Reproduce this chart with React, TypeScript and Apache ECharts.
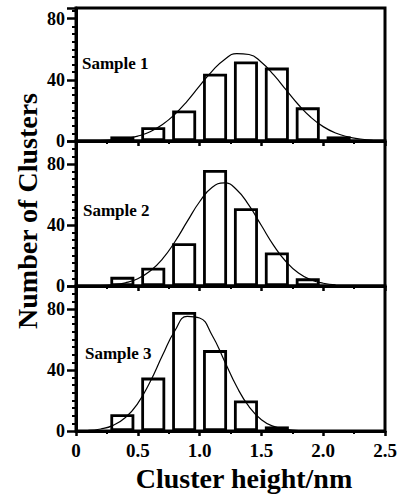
import React, { useEffect, useRef } from "react";
import * as echarts from "echarts";

const binCenters = [0.375, 0.625, 0.875, 1.125, 1.375, 1.625, 1.875, 2.125];
const sample1Counts = [3, 9, 20, 44, 52, 48, 22, 3];
const sample2Counts = [6, 12, 28, 76, 51, 22, 5, null];
const sample3Counts = [11, 35, 78, 53, 20, 3, null, null];

const fitX1 = [0.2, 0.3, 0.4, 0.5, 0.6, 0.7, 0.8, 0.9, 1.0, 1.1, 1.2, 1.3, 1.4, 1.5, 1.6, 1.7, 1.8, 1.9, 2.0, 2.1, 2.2, 2.3, 2.4];
const fitY1 = [0.3, 0.7, 1.5, 3.2, 6.1, 10.8, 17.5, 26.1, 36.0, 45.6, 53.2, 57.2, 56.6, 51.5, 43.2, 33.4, 23.7, 15.5, 9.4, 5.2, 2.7, 1.3, 0.5];
const fitX2 = [0.2, 0.3, 0.4, 0.5, 0.6, 0.7, 0.8, 0.9, 1.0, 1.1, 1.2, 1.3, 1.4, 1.5, 1.6, 1.7, 1.8, 1.9, 2.0, 2.1];
const fitY2 = [0.3, 0.8, 2.1, 4.8, 9.8, 17.8, 29.0, 42.3, 55.2, 64.5, 67.5, 63.1, 52.8, 39.6, 26.5, 15.9, 8.5, 4.1, 1.8, 0.7];
const fitX3 = [0.1, 0.2, 0.3, 0.4, 0.5, 0.6, 0.7, 0.8, 0.9, 1.0, 1.1, 1.2, 1.3, 1.4, 1.5, 1.6, 1.7, 1.8];
const fitY3 = [0.4, 1.3, 3.7, 8.8, 18.1, 32.3, 49.6, 65.7, 75.1, 74.0, 62.9, 46.1, 29.1, 15.9, 7.4, 3.0, 1.05, 0.3];

const sampleNames = ["Sample 1", "Sample 2", "Sample 3"];
const yTickLabels = ["0", "40", "80"];
const xTickLabels = ["0", "0.5", "1.0", "1.5", "2.0", "2.5"];
const yMaxes = [87, 95, 95];
const xTitle = "Cluster height/nm";
const yTitle = "Number of Clusters";

const FONT = '"Liberation Serif", "Times New Roman", serif';

export default function App() {
  const ref = useRef<HTMLDivElement>(null);
  useEffect(() => {
    if (!ref.current) return;
    const chart = echarts.init(ref.current, undefined, { renderer: "svg" });
    const counts = [sample1Counts, sample2Counts, sample3Counts];
    const fits = [
      [fitX1, fitY1],
      [fitX2, fitY2],
      [fitX3, fitY3],
    ];
    const grids = [
      { left: 76, top: 8, width: 309, height: 133 },
      { left: 76, top: 141, width: 309, height: 145 },
      { left: 76, top: 286, width: 309, height: 145 },
    ].map((g) => ({ ...g, show: true, borderColor: "#000", borderWidth: 3, backgroundColor: "transparent" }));

    const xAxes = [0, 1, 2].map((i) => ({
      type: "value",
      gridIndex: i,
      min: 0,
      max: 2.5,
      interval: 0.5,
      axisLine: { show: true, lineStyle: { color: "#000", width: 3 } },
      axisTick: { show: true, inside: false, length: 5, lineStyle: { color: "#000", width: 2.5 } },
      minorTick: { show: true, splitNumber: 2, length: 3, lineStyle: { color: "#000", width: 2 } },
      splitLine: { show: false },
      axisLabel: {
        show: i === 2,
        margin: 10,
        color: "#000",
        fontFamily: FONT,
        fontWeight: "bold",
        fontSize: 19,
        formatter: (v: number) => {
          const idx = Math.round(v / 0.5);
          return xTickLabels[idx] ?? "";
        },
      },
    }));

    const yAxes = [0, 1, 2].map((i) => ({
      type: "value",
      gridIndex: i,
      min: 0,
      max: yMaxes[i],
      interval: 40,
      axisLine: { show: true, lineStyle: { color: "#000", width: 3 } },
      axisTick: { show: true, inside: false, length: 9, lineStyle: { color: "#000", width: 2.5 } },
      minorTick: { show: true, splitNumber: 8, length: 4, lineStyle: { color: "#000", width: 2 } },
      splitLine: { show: false },
      axisLabel: {
        show: true,
        margin: 11,
        color: "#000",
        fontFamily: FONT,
        fontWeight: "bold",
        fontSize: 18,
        formatter: (v: number) => {
          const idx = Math.round(v / 40);
          return Math.abs(v - idx * 40) < 1e-6 ? yTickLabels[idx] ?? "" : "";
        },
      },
    }));

    const series: any[] = [];
    [0, 1, 2].forEach((i) => {
      const data = binCenters
        .map((x, k) => (counts[i][k] == null ? null : [x, counts[i][k]]))
        .filter((d) => d !== null);
      series.push({
        type: "bar",
        xAxisIndex: i,
        yAxisIndex: i,
        data,
        barWidth: 24,
        itemStyle: { color: "#fff", borderColor: "#000", borderWidth: 2.8 },
        z: 2,
      });
      const [fx, fy] = fits[i];
      series.push({
        type: "line",
        xAxisIndex: i,
        yAxisIndex: i,
        data: fx.map((x, k) => [x, fy[k]]),
        smooth: true,
        symbol: "none",
        lineStyle: { color: "#000", width: 1.2 },
        z: 4,
      });
    });

    const labelPos = [
      [82, 63],
      [83, 210],
      [85, 353],
    ];

    const graphic: any[] = sampleNames.map((t, i) => ({
      type: "text",
      x: labelPos[i][0],
      y: labelPos[i][1],
      z: 10,
      style: {
        text: t,
        font: `bold 17px ${FONT}`,
        fill: "#000",
        align: "left",
        verticalAlign: "middle",
      },
    }));
    graphic.push({
      type: "text",
      x: 244,
      y: 478,
      style: { text: xTitle, font: `bold 28px ${FONT}`, fill: "#000", align: "center", verticalAlign: "middle" },
    });
    graphic.push({
      type: "text",
      x: 27,
      y: 211,
      rotation: Math.PI / 2,
      style: { text: yTitle, font: `bold 28px ${FONT}`, fill: "#000", align: "center", verticalAlign: "middle" },
    });

    chart.setOption({
      animation: false,
      backgroundColor: "#fff",
      grid: grids,
      xAxis: xAxes,
      yAxis: yAxes,
      series,
      graphic,
    });
    return () => chart.dispose();
  }, []);
  return <div ref={ref} style={{ position: "absolute", left: 0, top: 0, width: 407, height: 496 }} />;
}
